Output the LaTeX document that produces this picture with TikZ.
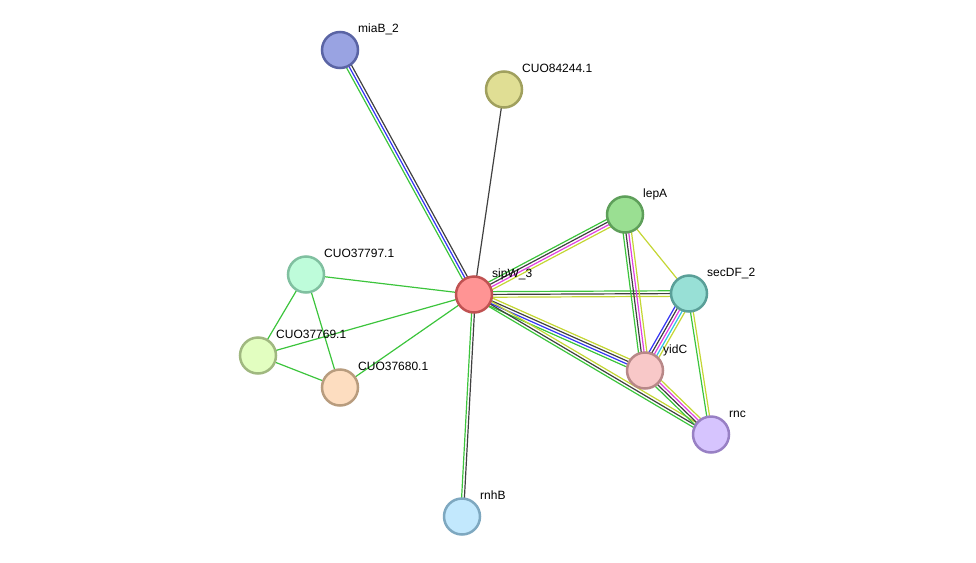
\documentclass[tikz,border=0pt]{standalone}
\usepackage{fontspec}
\setmainfont{Liberation Sans}
\usetikzlibrary{calc}
\definecolor{eg}{HTML}{3CC43C}
\definecolor{ek}{HTML}{404040}
\definecolor{eb}{HTML}{3434F4}
\definecolor{em}{HTML}{E040E0}
\definecolor{ey}{HTML}{C4D634}
\definecolor{ec}{HTML}{30C4E4}
\definecolor{fmiaB}{HTML}{99A3E2}\definecolor{dmiaB}{HTML}{5A64A4}
\definecolor{fcuo}{HTML}{E0DE94}\definecolor{dcuo}{HTML}{A0A05E}
\definecolor{flepA}{HTML}{9ADF92}\definecolor{dlepA}{HTML}{5E9F5A}
\definecolor{fsipW}{HTML}{FF9494}\definecolor{dsipW}{HTML}{C05252}
\definecolor{fsecDF}{HTML}{98E0D6}\definecolor{dsecDF}{HTML}{5A9F98}
\definecolor{fsvn}{HTML}{BEFCDA}\definecolor{dsvn}{HTML}{80C0A0}
\definecolor{fsix}{HTML}{E2FEC0}\definecolor{dsix}{HTML}{A0B880}
\definecolor{fsxe}{HTML}{FDDDC0}\definecolor{dsxe}{HTML}{B89C7E}
\definecolor{fyidC}{HTML}{F8C8C8}\definecolor{dyidC}{HTML}{B88888}
\definecolor{frnc}{HTML}{D6C4FE}\definecolor{drnc}{HTML}{9880C4}
\definecolor{frnhB}{HTML}{C2E8FD}\definecolor{drnhB}{HTML}{7EA8C0}
\tikzset{
  prot/.style={circle, minimum size=36pt, inner sep=0pt, line width=2.5pt},
  lbl/.style={anchor=base west, inner sep=0pt, font=\fontsize{12}{14}\selectfont, text=black},
  eline/.style={line width=1.2pt}
}
\newcommand{\multiedge}[3]{%
  \foreach \o/\c in {#3}{%
    \draw[eline, \c] ($(#1)!\o pt!90:(#2)$) -- ($(#2)!\o pt!-90:(#1)$);
  }%
}
\begin{document}
\begin{tikzpicture}[x=1pt,y=-1pt]
\useasboundingbox (0,0) rectangle (976,562);
% node coordinates
\coordinate (miaB) at (340,50);
\coordinate (cuo84) at (504,89.5);
\coordinate (lepA) at (625,214.5);
\coordinate (sipW) at (474,294.5);
\coordinate (secDF) at (689,293.5);
\coordinate (c797) at (306,274.5);
\coordinate (c769) at (258,355.5);
\coordinate (c680) at (340,387.5);
\coordinate (yidC) at (645,370.5);
\coordinate (rnc) at (711,434.5);
\coordinate (rnhB) at (462,516.5);
% edges
\multiedge{sipW}{miaB}{2.8/eg,0/eb,-2.8/ek}
\multiedge{sipW}{cuo84}{0/ek}
\multiedge{sipW}{lepA}{4.2/eg,1.4/ek,-1.4/em,-4.2/ey}
\multiedge{sipW}{secDF}{2.8/eg,0/ek,-2.8/ey}
\multiedge{sipW}{yidC}{4.2/ey,1.4/ek,-1.4/eb,-4.2/eg}
\multiedge{sipW}{rnc}{2.8/ey,0/ek,-2.8/eg}
\multiedge{sipW}{rnhB}{1.4/ek,-1.4/eg}
\multiedge{sipW}{c797}{0/eg}
\multiedge{sipW}{c769}{0/eg}
\multiedge{sipW}{c680}{0/eg}
\multiedge{c797}{c769}{0/eg}
\multiedge{c797}{c680}{0/eg}
\multiedge{c769}{c680}{0/eg}
\multiedge{lepA}{secDF}{0/ey}
\multiedge{lepA}{yidC}{-4.2/eg,-1.4/ek,1.4/em,4.2/ey}
\multiedge{secDF}{yidC}{5.6/ey,2.8/ec,0/em,-2.8/ek,-5.6/eb}
\multiedge{secDF}{rnc}{-1.4/eg,1.4/ey}
\multiedge{yidC}{rnc}{4.2/ey,1.4/em,-1.4/ek,-4.2/eg}
% nodes
\node[prot, fill=fmiaB, draw=dmiaB] (nmiaB) at (miaB) {};
\node[prot, fill=fcuo, draw=dcuo] (ncuo84) at (cuo84) {};
\node[prot, fill=flepA, draw=dlepA] (nlepA) at (lepA) {};
\node[prot, fill=fsipW, draw=dsipW] (nsipW) at (sipW) {};
\node[prot, fill=fsecDF, draw=dsecDF] (nsecDF) at (secDF) {};
\node[prot, fill=fsvn, draw=dsvn] (n797) at (c797) {};
\node[prot, fill=fsix, draw=dsix] (n769) at (c769) {};
\node[prot, fill=fsxe, draw=dsxe] (n680) at (c680) {};
\node[prot, fill=fyidC, draw=dyidC] (nyidC) at (yidC) {};
\node[prot, fill=frnc, draw=drnc] (nrnc) at (rnc) {};
\node[prot, fill=frnhB, draw=drnhB] (nrnhB) at (rnhB) {};
% labels
\node[lbl] (lmiaB) at ($(miaB)+(18,-17.5)$) {miaB\_2};
\node[lbl] (lcuo84) at ($(cuo84)+(18,-17.5)$) {CUO84244.1};
\node[lbl] (llepA) at ($(lepA)+(18,-17.5)$) {lepA};
\node[lbl] (lsipW) at ($(sipW)+(18,-17.5)$) {sipW\_3};
\node[lbl] (lsecDF) at ($(secDF)+(18,-17.5)$) {secDF\_2};
\node[lbl] (l797) at ($(c797)+(18,-17.5)$) {CUO37797.1};
\node[lbl] (l769) at ($(c769)+(18,-17.5)$) {CUO37769.1};
\node[lbl] (l680) at ($(c680)+(18,-17.5)$) {CUO37680.1};
\node[lbl] (lyidC) at ($(yidC)+(18,-17.5)$) {yidC};
\node[lbl] (lrnc) at ($(rnc)+(18,-17.5)$) {rnc};
\node[lbl] (lrnhB) at ($(rnhB)+(18,-17.5)$) {rnhB};
\end{tikzpicture}
\end{document}
